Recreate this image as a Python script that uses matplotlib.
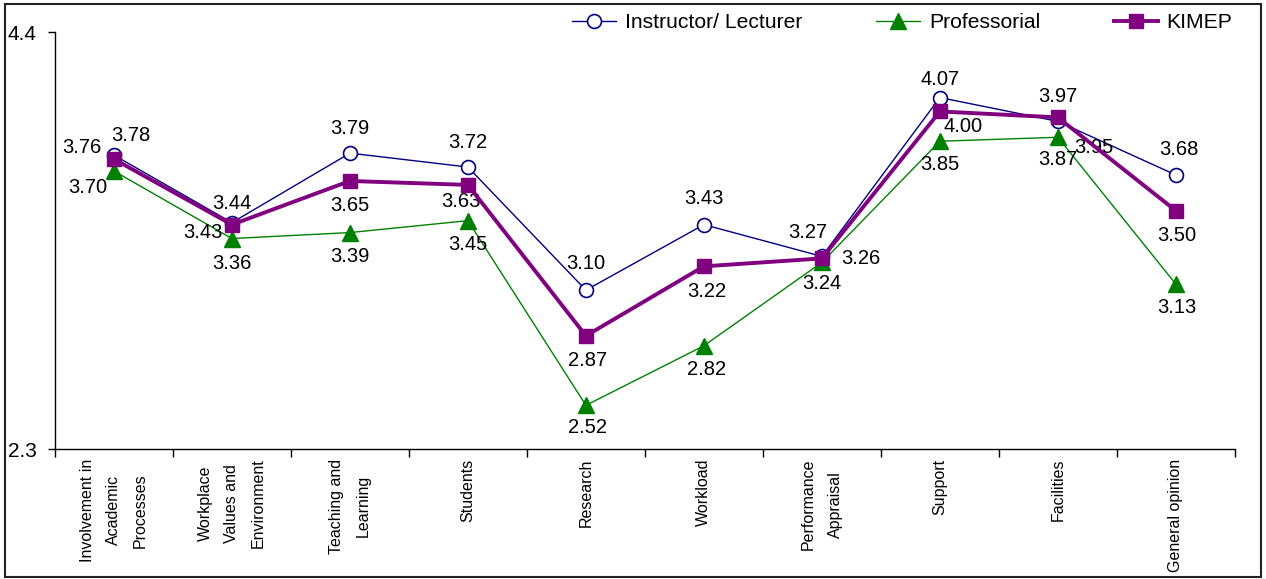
import numpy as np
import matplotlib.pyplot as plt
from matplotlib.patches import Rectangle
from matplotlib.ticker import FixedLocator

plt.rcParams['font.family'] = ['Liberation Sans', 'DejaVu Sans']

categories = ["Involvement in\nAcademic\nProcesses", "Workplace\nValues and\nEnvironment",
              "Teaching and\nLearning", "Students", "Research", "Workload",
              "Performance\nAppraisal", "Support", "Facilities", "General opinion"]

instructor = [3.78, 3.44, 3.79, 3.72, 3.10, 3.43, 3.27, 4.07, 3.95, 3.68]
professorial = [3.70, 3.36, 3.39, 3.45, 2.52, 2.82, 3.24, 3.85, 3.87, 3.13]
kimep = [3.76, 3.43, 3.65, 3.63, 2.87, 3.22, 3.26, 4.00, 3.97, 3.50]

# label offsets in points (dx, dy) for each series
off_instr = [(12, 14), (0, 14), (0, 18), (0, 18), (0, 19), (0, 19), (-10, 17), (0, 13), (26, -19), (2, 18)]
off_prof = [(-19, -12), (0, -18), (0, -17), (0, -17), (1, -16), (2, -17), (0, -15), (0, -17), (0, -16), (1, -17)]
off_kimep = [(-23, 8), (-21, -6), (0, -18), (-5, -12), (1, -18), (2, -18), (28, 0), (17, -11), (0, 15), (1, -18)]

fig = plt.figure(figsize=(12.66, 5.79), dpi=100)
ax = fig.add_axes([0.0434, 0.2245, 0.932, 0.7202])

x = np.arange(len(categories))

ax.plot(x, instructor, color='#000080', lw=1, marker='o', ms=10,
        mfc='white', mec='#000080', mew=1.2, label='Instructor/ Lecturer', zorder=3)
ax.plot(x, professorial, color='#008000', lw=1, marker='^', ms=11,
        mfc='#008000', mec='#008000', label='Professorial', zorder=3)
ax.plot(x, kimep, color='#800080', lw=2.8, marker='s', ms=9.5,
        mfc='#800080', mec='#800080', label='KIMEP', zorder=4)

for vals, offs in [(instructor, off_instr), (professorial, off_prof), (kimep, off_kimep)]:
    for i, v in enumerate(vals):
        ax.annotate(f"{v:.2f}", (x[i], v), xytext=offs[i], textcoords='offset points',
                    ha='center', va='center', fontsize=14.5)

ax.set_xlim(-0.5, len(categories) - 0.5)
ax.set_ylim(2.3, 4.4)
ax.set_yticks([2.3, 4.4])
ax.set_yticklabels(['2.3', '4.4'], fontsize=15)
ax.tick_params(axis='y', direction='out', length=5, width=1, pad=8)

ax.set_xticks(x)
ax.set_xticklabels(categories, rotation=90, fontsize=11.5, va='top', ha='center',
                   multialignment='center', linespacing=1.95)
ax.tick_params(axis='x', which='major', length=0, pad=7)
ax.xaxis.set_minor_locator(FixedLocator(np.arange(len(categories) + 1) - 0.5))
ax.tick_params(axis='x', which='minor', direction='out', length=6, width=1)

ax.spines['top'].set_visible(False)
ax.spines['right'].set_visible(False)
ax.spines['left'].set_linewidth(1)
ax.spines['bottom'].set_linewidth(1)

fig.legend(loc='center left', bbox_to_anchor=(572 / 1266, 1 - 23 / 579), ncol=3, frameon=False,
           fontsize=15.2, handlelength=2.1, columnspacing=3.5, handletextpad=0.4,
           borderpad=0, borderaxespad=0)

# border round the whole figure
fig.patches.append(Rectangle((5 / 1266, 2 / 579), 1256 / 1266, 573 / 579,
                             transform=fig.transFigure, fill=False,
                             edgecolor='#222222', lw=1.5))

fig.savefig('out.png', dpi=100)
